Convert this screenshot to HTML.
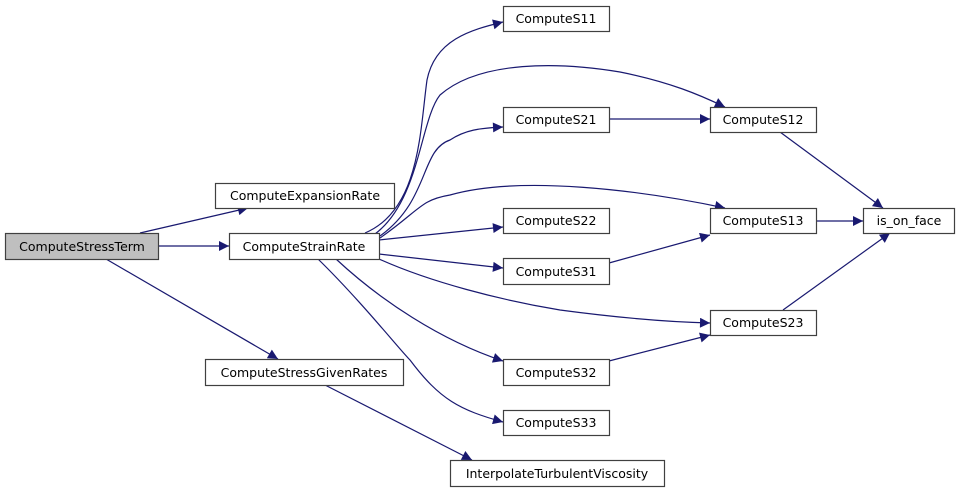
<!DOCTYPE html>
<html><head><meta charset="utf-8"><style>
body{margin:0;background:#fff;width:960px;height:493px;overflow:hidden}
svg{display:block}
text{font-family:"DejaVu Sans",sans-serif;font-size:12.5px;fill:#000}
</style></head><body>
<svg width="960" height="493" viewBox="0 0 960 493" xmlns="http://www.w3.org/2000/svg">
<defs><marker id="a" viewBox="0 0 10 10" refX="10" refY="5" markerWidth="13" markerHeight="10" markerUnits="userSpaceOnUse" orient="auto"><path d="M0,0L10,5L0,10z" fill="#191970"/></marker></defs>
<g fill="none" stroke="#191970" stroke-width="1.2" marker-end="url(#a)">
<path d="M140,233 L248,208"/>
<path d="M158,246 L229,246"/>
<path d="M106,259 L278,359"/>
<path d="M365,233 C420,210 420,130 427,80 C435,40 470,30 503,22"/>
<path d="M375,234 C420,200 420,120 440,95 C480,60 560,62 620,72 C670,82 700,95 725,107"/>
<path d="M380,236 C430,200 420,150 450,140 C465,130 480,128 503,127"/>
<path d="M380,238 C420,210 420,200 450,195 C520,175 640,190 725,208"/>
<path d="M379,240 L503,227"/>
<path d="M379,254 L503,268"/>
<path d="M379,259 C430,282 500,300 560,310 C620,318 670,322 710,323"/>
<path d="M336,259 C380,300 440,340 503,361"/>
<path d="M318,259 C360,300 400,350 410,360 C440,400 460,410 503,422"/>
<path d="M609,119 L710,119"/>
<path d="M609,263 L710,235"/>
<path d="M609,361 L710,335"/>
<path d="M780,132 L883,208"/>
<path d="M816,221 L863,221"/>
<path d="M783,310 L890,233"/>
<path d="M325,385 L472,460"/>
</g>
<g fill="#fff" stroke="#404040" stroke-width="1.2">
<rect x="5.5" y="233.5" width="153" height="26" fill="#bfbfbf"/>
<rect x="215.5" y="183.5" width="179" height="25"/>
<rect x="229.5" y="233.5" width="150" height="26"/>
<rect x="205.5" y="359.5" width="198" height="26"/>
<rect x="450.5" y="460.5" width="214" height="26"/>
<rect x="503.5" y="6.5" width="106" height="25"/>
<rect x="503.5" y="107.5" width="106" height="25"/>
<rect x="503.5" y="208.5" width="106" height="25"/>
<rect x="503.5" y="258.5" width="106" height="26"/>
<rect x="503.5" y="359.5" width="106" height="26"/>
<rect x="503.5" y="410.5" width="106" height="25"/>
<rect x="710.5" y="107.5" width="106" height="25"/>
<rect x="710.5" y="208.5" width="106" height="25"/>
<rect x="710.5" y="310.5" width="106" height="25"/>
<rect x="863.5" y="208.5" width="91" height="25"/>
</g>
<g text-anchor="middle">
<text x="82" y="251">ComputeStressTerm</text>
<text x="305" y="200">ComputeExpansionRate</text>
<text x="304" y="251">ComputeStrainRate</text>
<text x="304" y="377">ComputeStressGivenRates</text>
<text x="557" y="478">InterpolateTurbulentViscosity</text>
<text x="556" y="23">ComputeS11</text>
<text x="556" y="124">ComputeS21</text>
<text x="556" y="225">ComputeS22</text>
<text x="556" y="276">ComputeS31</text>
<text x="556" y="377">ComputeS32</text>
<text x="556" y="427">ComputeS33</text>
<text x="763" y="124">ComputeS12</text>
<text x="763" y="225">ComputeS13</text>
<text x="763" y="327">ComputeS23</text>
<text x="909" y="225">is_on_face</text>
</g>
</svg>
</body></html>
